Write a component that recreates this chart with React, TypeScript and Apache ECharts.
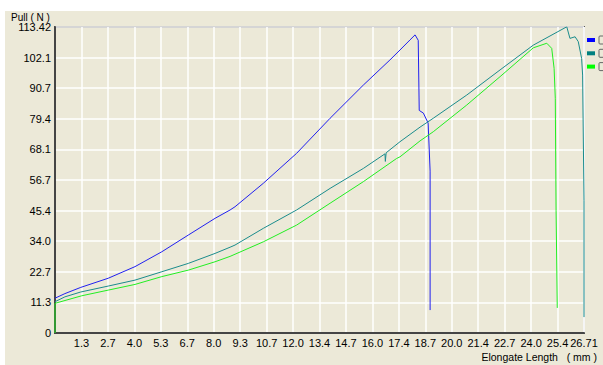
import React, { useEffect, useRef } from "react";
import * as echarts from "echarts";

const xLabels = ["", "1.3", "2.7", "4.0", "5.3", "6.7", "8.0", "9.3", "10.7", "12.0", "13.4", "14.7", "16.0", "17.4", "18.7", "20.0", "21.4", "22.7", "24.0", "25.4", "26.71"];
const yLabels = ["0", "11.3", "22.7", "34.0", "45.4", "56.7", "68.1", "79.4", "90.7", "102.1", "113.42"];
const xMax = 26.71;
const yMax = 113.42;

const blueX = [0, 0.5, 1.3, 2.69, 4.04, 5.39, 6.73, 8.08, 8.84, 9.09, 10.52, 12.2, 13.89, 15.57, 16.91, 17.42, 17.92, 18.18, 18.21, 18.34, 18.39, 18.6, 18.84, 18.94, 18.94];
const blueY = [12.9, 14.6, 16.9, 20.3, 24.6, 30.1, 36.3, 42.5, 45.6, 46.8, 55.5, 66.6, 79.6, 91.9, 101.2, 104.9, 108.6, 110.5, 110.4, 108.5, 82.5, 81.5, 77.8, 60.0, 8.5];

const tealX = [0, 0.5, 1.3, 2.69, 4.04, 5.39, 6.73, 8.08, 8.84, 9.09, 10.52, 12.2, 13.89, 15.57, 16.66, 16.68, 16.72, 17.42, 18.43, 19.1, 20.79, 22.47, 24.15, 25.84, 26.0, 26.26, 26.42, 26.59, 26.64, 26.71, 26.71];
const tealY = [11.6, 13.4, 15.2, 17.4, 19.6, 22.7, 25.8, 29.5, 31.8, 32.6, 38.8, 45.6, 53.6, 61.0, 66.4, 63.6, 66.8, 70.9, 76.3, 79.6, 88.2, 97.5, 106.7, 113.5, 109.2, 109.8, 108.0, 101.8, 95.6, 49.0, 5.9];

const greenX = [0, 0, 1.35, 2.69, 4.04, 5.39, 6.73, 8.08, 8.84, 9.09, 10.52, 12.2, 13.89, 15.57, 17.25, 17.42, 18.43, 19.1, 20.79, 22.47, 24.15, 24.83, 25.08, 25.2, 25.26, 25.3, 25.36];
const greenY = [0, 11.0, 13.8, 15.9, 18.0, 20.9, 23.3, 26.4, 28.4, 29.2, 33.8, 40.0, 48.1, 56.1, 64.7, 65.3, 71.2, 74.6, 84.5, 95.0, 105.7, 107.4, 105.5, 98.1, 87.0, 45.5, 9.3];

const seriesNames = ["0", "1", "2"];
const seriesColors = ["#2020f0", "#1a8c8c", "#22ee22"];

const zip = (xs: number[], ys: number[]) => xs.map((x, i) => [x, ys[i]]);

const FONT = "'Liberation Sans', Arial, sans-serif";

export default function App() {
  const ref = useRef<HTMLDivElement>(null);
  useEffect(() => {
    if (!ref.current) return;
    const chart = echarts.init(ref.current, undefined, { renderer: "svg" });
    const xInt = xMax / 20;
    const yInt = yMax / 10;
    const datasets = [zip(blueX, blueY), zip(tealX, tealY), zip(greenX, greenY)];
    const legendColors = ["#0000ff", "#008080", "#00ff00"];
    const legendGraphics: any[] = [];
    legendColors.forEach((c, i) => {
      const cy = 40 + i * 13.3;
      legendGraphics.push({
        type: "rect",
        shape: { x: 587, y: cy - 2, width: 8, height: 4 },
        style: { fill: c },
        z: 10,
      });
      legendGraphics.push({
        type: "rect",
        shape: { x: 599, y: cy - 4, width: 8, height: 8, r: 1 },
        style: { fill: "none", stroke: "#666", lineWidth: 1 },
        z: 10,
      });
    });
    chart.setOption({
      animation: false,
      backgroundColor: "#ffffff",
      textStyle: { fontFamily: FONT },
      grid: {
        left: 55,
        right: 19,
        top: 27,
        bottom: 32,
        show: true,
        borderColor: "#5a5a5a",
        borderWidth: 2,
        backgroundColor: "transparent",
      },
      graphic: [
        {
          type: "rect",
          shape: { x: 5, y: 11, width: 598, height: 354 },
          style: { fill: "#ECE9D8" },
          z: -10,
          silent: true,
        },
        {
          type: "text",
          x: 11,
          y: 17,
          style: { text: "Pull ( N )", fontSize: 10, fontFamily: FONT, fill: "#000", verticalAlign: "middle" },
        },
        {
          type: "text",
          x: 597,
          y: 357,
          style: { text: "Elongate Length   ( mm )", fontSize: 10.5, fontFamily: FONT, fill: "#000", verticalAlign: "middle", align: "right" },
        },
        ...legendGraphics,
      ],
      xAxis: {
        type: "value",
        min: 0,
        max: xMax,
        interval: xInt,
        axisLine: { show: true, lineStyle: { color: "#454545", width: 2 } },
        axisTick: { show: false },
        splitLine: { show: true, lineStyle: { color: "#ffffff", width: 1.5 } },
        axisLabel: {
          color: "#000",
          fontSize: 11,
          fontFamily: FONT,
          margin: 4,
          showMaxLabel: true,
          showMinLabel: true,
          hideOverlap: false,
          formatter: (v: number) => xLabels[Math.round(v / xInt)] ?? "",
        },
      },
      yAxis: {
        type: "value",
        min: 0,
        max: yMax,
        interval: yInt,
        axisLine: { show: true, lineStyle: { color: "#454545", width: 2 } },
        axisTick: { show: false },
        splitLine: { show: true, lineStyle: { color: "#ffffff", width: 1.5 } },
        axisLabel: {
          color: "#000",
          fontSize: 11,
          fontFamily: FONT,
          margin: 4,
          padding: [7, 0, 0, 0],
          showMaxLabel: true,
          showMinLabel: true,
          formatter: (v: number) => yLabels[Math.round(v / yInt)] ?? "",
        },
      },
      series: datasets.map((d, i) => ({
        name: seriesNames[i],
        type: "line",
        data: d,
        showSymbol: false,
        symbol: "none",
        lineStyle: { color: seriesColors[i], width: 1 },
        itemStyle: { color: seriesColors[i] },
        z: 3,
      })),
    });
    return () => chart.dispose();
  }, []);
  return <div ref={ref} style={{ width: 603, height: 365, position: "absolute", left: 0, top: 0 }} />;
}
